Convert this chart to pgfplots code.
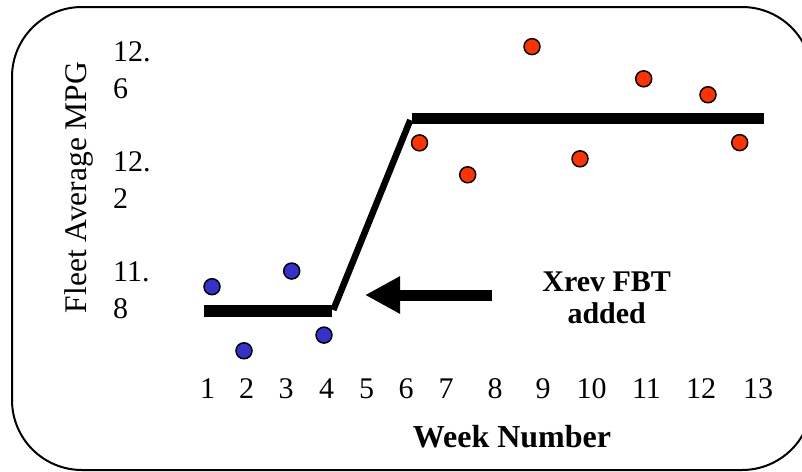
\documentclass[border=0pt]{standalone}
\usepackage{fontspec}
\setmainfont{Liberation Serif}
\usepackage{pgfplots}
\pgfplotsset{compat=1.18}
\usetikzlibrary{arrows.meta}
\definecolor{dotblue}{RGB}{51,51,204}
\definecolor{dotred}{RGB}{255,51,0}
\newcommand\bigf{\fontsize{30bp}{36.6bp}\selectfont}
\begin{document}
\begin{tikzpicture}
\useasboundingbox (0,0) rectangle (802bp,-472bp);
\draw[line width=2bp, rounded corners=70bp] (12bp,-7bp) rectangle (812bp,-470bp);
\begin{axis}[
  at={(170bp,-360bp)}, anchor=south west,
  scale only axis, width=620bp, height=340bp,
  xmin=170, xmax=790, ymin=11.54545, ymax=12.78182,
  clip=false,
  axis line style={draw=none},
  major tick length=0pt,
  xtick={207.7,246.7,286,326.7,366.7,406,446,495,543,591.7,646.5,701,758},
  xticklabels={1,2,3,4,5,6,7,8,9,10,11,12,13},
  ytick={11.8,12.2,12.6},
  yticklabels={{11.\\8},{12.\\2},{12.\\6}},
  /pgf/number format/assume math mode=true,
  tick label style={font=\bigf},
  xticklabel style={anchor=north, inner sep=0pt, yshift=-18.3bp},
  yticklabel style={anchor=west, inner sep=0pt, align=left, xshift=-57bp},
  xlabel={\textbf{Week Number}},
  ylabel={Fleet Average MPG},
  xlabel style={font=\fontsize{32bp}{38bp}\selectfont, at={(axis description cs:0.5516,-0.2559)}, anchor=base},
  ylabel style={font=\fontsize{31.5bp}{38bp}\selectfont, at={(axis description cs:-0.1339,0.5074)}, anchor=base},
]
% step lines
\addplot[line width=11.5bp, black] coordinates {(204,11.724) (331.7,11.724)};
\addplot[line width=6.5bp, black] coordinates {(333.3,11.7273) (410.3,12.418)};
\addplot[line width=11.3bp, black] coordinates {(412,12.4229) (763.7,12.4229)};
% arrow
\addplot[line width=11bp, black, -{Triangle[length=35bp, width=35bp]}] coordinates {(491.7,11.7818) (365,11.7818)};
% before
\addplot[only marks, mark=*, mark size=8bp, mark options={fill=dotblue, draw=black, line width=1.5bp}] coordinates {(212,11.812) (244,11.579) (291.7,11.869) (324,11.636)};
% after
\addplot[only marks, mark=*, mark size=8bp, mark options={fill=dotred, draw=black, line width=1.5bp}] coordinates {(419.5,12.335) (467.7,12.219) (532,12.685) (580,12.277) (643.7,12.568) (708,12.510) (739.7,12.336)};
\node[font=\fontsize{30bp}{32bp}\selectfont\bfseries, align=center, anchor=north, inner sep=0pt] at (axis cs:606.7,11.8655) {Xrev FBT\\added};
\end{axis}
\end{tikzpicture}
\end{document}
